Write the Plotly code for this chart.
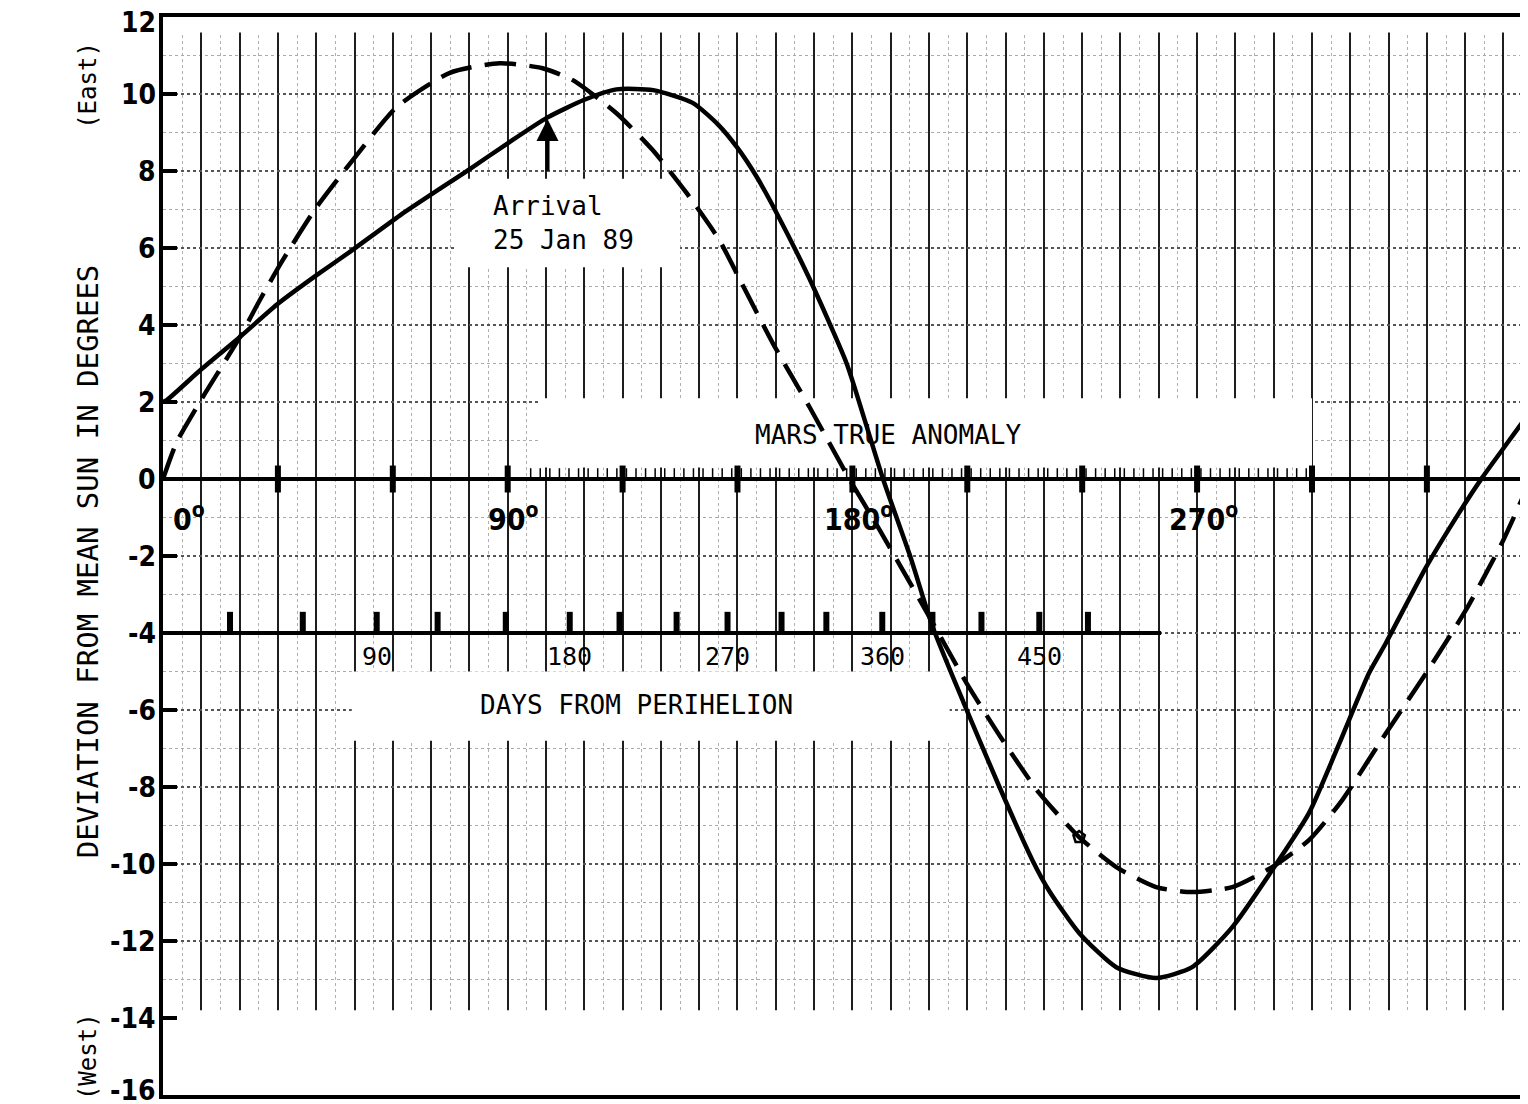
import numpy as np
import plotly.graph_objects as go

# ---------------- data ----------------
# Solid curve: deviation from mean sun (degrees) vs Mars true anomaly (degrees)
solid_anomaly = [0, 1, 10, 20.1, 30, 40.2, 48.8, 61.9, 80.1, 90, 100.2, 110, 118.4, 128, 138.3,
                 145, 150, 155, 160, 168.8, 178.5, 183, 188, 194.9, 201, 209, 218.4, 227,
                 231.4, 239.2, 248.9, 259.3, 268.7, 279.2, 289.6, 299.2, 307, 314.9, 319.3,
                 329.8, 338.4, 344.4, 350, 355.9, 356.4]
solid_dev = [2.0, 2.05, 2.85, 3.69, 4.55, 5.3, 5.9, 6.85, 8.05, 8.72, 9.38, 9.85, 10.12, 10.1, 9.77,
             9.2, 8.6, 7.85, 6.95, 5.2, 3.0, 1.6, 0.0, -1.95, -3.85, -5.8, -8.0, -9.9,
             -10.7, -11.79, -12.68, -12.96, -12.68, -11.64, -10.16, -8.68, -6.9, -5.04, -4.26,
             -2.29, -0.88, 0.03, 0.8, 1.61, 1.7]

# Dashed curve
dashed_anomaly = [0, 3.6, 10.4, 20.1, 25.3, 31.3, 40, 49.6, 61, 74.9, 87.9, 99.1, 107, 118.4,
                  127.8, 136.7, 145.3, 150, 159.2, 168.8, 179.2, 187.1, 200.1, 209.8, 219.2,
                  228.8, 239.2, 248.9, 259.3, 268.7, 279.2, 289.6, 299.2, 307.9, 318, 329.8,
                  340.2, 349.6, 355.9, 356.4]
dashed_dev = [0.0, 0.96, 2.13, 3.69, 4.65, 5.69, 7.05, 8.29, 9.66, 10.55, 10.8, 10.67, 10.36, 9.5,
              8.55, 7.43, 6.2, 5.3, 3.53, 1.87, 0.0, -1.32, -3.58, -5.3, -6.78,
              -8.16, -9.3, -10.08, -10.6, -10.73, -10.6, -10.08, -9.38, -8.34, -6.8, -5.04,
              -3.4, -1.66, -0.29, -0.2]

# small open marker on the dashed curve
marker_anomaly = [239.2]
marker_dev = [-9.3]

# arrival arrow
arrival_anomaly = 100.4
arrival_dev = 9.35
arrival_tail_dev = 7.75

# Mars true anomaly scale (on the zero line)
anomaly_major_ticks = [30, 60, 90, 120, 150, 180, 210, 240, 270, 300, 330]
anomaly_labels = ["0", "90", "180", "270"]
anomaly_label_pos = [0, 90, 180, 270]

# Days from perihelion scale (on the y = -4 line)
day_ticks = [30, 60, 90, 120, 150, 180, 210, 240, 270, 300, 330, 360, 390, 420, 450, 480]
day_tick_anomaly = [17.5, 36.5, 55.8, 71.7, 89.5, 106.2, 119.2, 134.1, 147.4, 161.5, 173.2,
                    187.8, 200.9, 213.7, 228.8, 241.5]
day_axis_end_anomaly = 260.6
day_axis_level = -4

y_ticks = list(range(-16, 13, 2))
y_ticktext = [str(v) for v in y_ticks]

# ---------------- styling ----------------
COND = "Liberation Sans Narrow, DejaVu Sans Condensed, Roboto Condensed, Arial Narrow, Liberation Sans, sans-serif"
MONO = "DejaVu Sans Mono, Liberation Mono, monospace"
X_MAX = 356.4
Y_MIN, Y_MAX = -16, 12

fig = go.Figure()

# zero line (Mars true anomaly scale)
fig.add_trace(go.Scatter(x=[0, X_MAX], y=[0, 0], mode="lines",
                         line=dict(color="black", width=4), hoverinfo="skip"))
zx, zy = [], []
for a in anomaly_major_ticks:
    zx += [a, a, None]
    zy += [-0.35, 0.35, None]
fig.add_trace(go.Scatter(x=zx, y=zy, mode="lines", line=dict(color="black", width=6),
                         hoverinfo="skip"))
mx, my = [], []
for a in np.arange(96, 301, 2.5):
    mx += [a, a, None]
    my += [0, 0.28, None]
fig.add_trace(go.Scatter(x=mx, y=my, mode="lines", line=dict(color="black", width=1.5),
                         hoverinfo="skip"))

# days from perihelion line
fig.add_trace(go.Scatter(x=[0, day_axis_end_anomaly], y=[day_axis_level, day_axis_level],
                         mode="lines", line=dict(color="black", width=4), hoverinfo="skip"))
dx, dy = [], []
for a in day_tick_anomaly:
    dx += [a, a, None]
    dy += [day_axis_level, day_axis_level + 0.55, None]
fig.add_trace(go.Scatter(x=dx, y=dy, mode="lines", line=dict(color="black", width=6),
                         hoverinfo="skip"))

# curves
fig.add_trace(go.Scatter(x=dashed_anomaly, y=dashed_dev, mode="lines",
                         line=dict(color="black", width=4.5, dash="32px,13px",
                                   shape="spline", smoothing=0.6), hoverinfo="skip"))
fig.add_trace(go.Scatter(x=solid_anomaly, y=solid_dev, mode="lines",
                         line=dict(color="black", width=4.5, shape="spline", smoothing=0.6),
                         hoverinfo="skip"))
fig.add_trace(go.Scatter(x=marker_anomaly, y=marker_dev, mode="markers",
                         marker=dict(symbol="pentagon-open", size=12, color="black",
                                     line=dict(width=2.5, color="black")),
                         hoverinfo="skip"))

# white areas on the grid paper (between gridlines and traces)
white_boxes = [
    (0, X_MAX, 11.6, 12),        # top strip
    (0, X_MAX, -16, -13.8),      # bottom strip
    (98, 300, 0.3, 2.1),         # around MARS TRUE ANOMALY
    (49.3, 205.4, -6.8, -5.0),   # around DAYS FROM PERIHELION
    (76, 135, 5.5, 7.8),         # around Arrival text
]
shapes = []
for x0, x1, y0, y1 in white_boxes:
    shapes.append(dict(type="rect", xref="x", yref="y", x0=x0, x1=x1, y0=y0, y1=y1,
                       fillcolor="white", line=dict(width=0), layer="between"))

annotations = []
# y tick labels (as text so the end labels can sit just inside the page)
for v, t in zip(y_ticks, y_ticktext):
    shift = -5 if v == Y_MAX else (5 if v == Y_MIN else 0)
    annotations.append(dict(x=0, y=v, xref="paper", yref="y", showarrow=False, text=t,
                            xanchor="right", yanchor="middle", xshift=-5, yshift=shift,
                            font=dict(family=COND, size=28, color="black", weight="bold")))
# anomaly degree labels
for lab, pos in zip(anomaly_labels, anomaly_label_pos):
    annotations.append(dict(x=pos, y=-1.0, xref="x", yref="y", showarrow=False,
                            text=f"{lab}<sup>o</sup>",
                            xanchor="left" if pos == 0 else "center",
                            xshift=8 if pos == 0 else 6,
                            font=dict(family=COND, size=30, color="black", weight="bold")))
# day labels
for d, a in zip(day_ticks, day_tick_anomaly):
    if d % 90 == 0:
        annotations.append(dict(x=a, y=-4.62, xref="x", yref="y", showarrow=False,
                                text=str(d), xanchor="center",
                                font=dict(family=MONO, size=25, color="black")))
# text labels
annotations.append(dict(x=189.3, y=1.15, xref="x", yref="y", showarrow=False,
                        text="MARS TRUE ANOMALY", xanchor="center",
                        font=dict(family=MONO, size=26, color="black")))
annotations.append(dict(x=123.5, y=-5.87, xref="x", yref="y", showarrow=False,
                        text="DAYS FROM PERIHELION", xanchor="center",
                        font=dict(family=MONO, size=26, color="black")))
annotations.append(dict(x=85.6, y=6.65, xref="x", yref="y", showarrow=False,
                        text="Arrival<br>25 Jan 89", xanchor="left", align="left",
                        font=dict(family=MONO, size=26, color="black")))
# arrival arrow
annotations.append(dict(x=arrival_anomaly, y=arrival_dev, ax=arrival_anomaly, ay=arrival_tail_dev,
                        xref="x", yref="y", axref="x", ayref="y", showarrow=True,
                        arrowhead=2, arrowsize=1.1, arrowwidth=4, arrowcolor="black", text=" "))
# y axis title and side labels
annotations.append(dict(x=-0.055, y=0.495, xref="paper", yref="paper", showarrow=False,
                        text="DEVIATION FROM MEAN SUN IN DEGREES", textangle=-90,
                        xanchor="center", yanchor="middle",
                        font=dict(family=MONO, size=29, color="black")))
annotations.append(dict(x=-0.055, y=0.937, xref="paper", yref="paper", showarrow=False,
                        text="(East)", textangle=-90, xanchor="center", yanchor="middle",
                        font=dict(family=MONO, size=24, color="black")))
annotations.append(dict(x=-0.055, y=0.036, xref="paper", yref="paper", showarrow=False,
                        text="(West)", textangle=-90, xanchor="center", yanchor="middle",
                        font=dict(family=MONO, size=24, color="black")))

# Size/margins chosen so the plot area lands at x 163..1528, y 17..1095
# in the 1528x1104 window (page body has an 8px margin).
fig.update_layout(
    width=1520, height=1096,
    margin=dict(l=155, r=0, t=9, b=9, autoexpand=False),
    paper_bgcolor="white", plot_bgcolor="white",
    showlegend=False,
    shapes=shapes,
    annotations=annotations,
    xaxis=dict(range=[0, X_MAX], showticklabels=False, ticks="", automargin=False,
               showgrid=True, dtick=10, tick0=0, gridcolor="#1e1e1e", gridwidth=1.5,
               minor=dict(showgrid=True, dtick=5, gridcolor="#b0b0b0", griddash="dot",
                          gridwidth=1),
               showline=True, linecolor="black", linewidth=4, mirror=True,
               zeroline=False, fixedrange=True),
    yaxis=dict(range=[Y_MIN, Y_MAX], tickmode="array", tickvals=y_ticks,
               showticklabels=False,
               ticks="inside", ticklen=14, tickwidth=4, tickcolor="black",
               automargin=False,
               showgrid=True, gridcolor="#555555", griddash="dot", gridwidth=1.5,
               minor=dict(showgrid=True, dtick=1, gridcolor="#aaaaaa", griddash="dot",
                          gridwidth=1),
               showline=True, linecolor="black", linewidth=4, mirror=False,
               zeroline=False, fixedrange=True),
)

fig.write_html("out.html")
